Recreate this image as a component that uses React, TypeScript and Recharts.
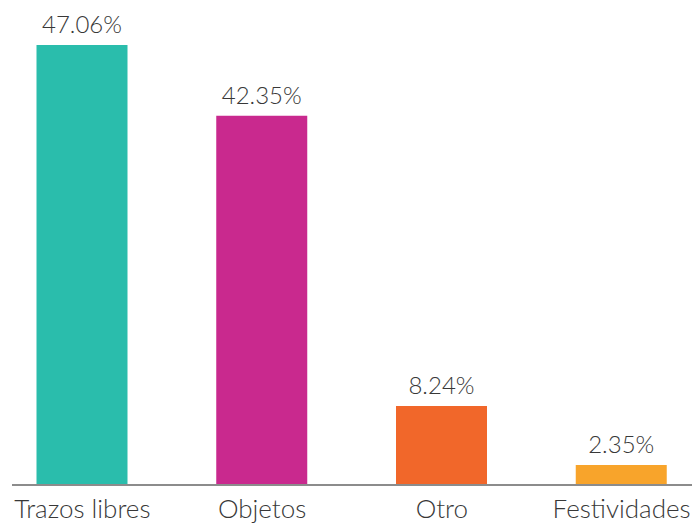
import { BarChart, Bar, XAxis, YAxis, Cell, LabelList } from "recharts";

const categories = ["Trazos libres", "Objetos", "Otro", "Festividades"];
// bar heights as drawn in the picture (percent scale)
const barValues = [47.06, 39.5, 8.45, 2.14];
// value labels printed above the bars
const valueLabels = ["47.06%", "42.35%", "8.24%", "2.35%"];
const colors = ["#2abdac", "#c9298e", "#f1672a", "#f8a42b"];

const data = categories.map((name, i) => ({
  name,
  value: barValues[i],
  label: valueLabels[i],
}));

const font = "Lato, 'Open Sans', sans-serif";

export default function App() {
  return (
    <div style={{ position: "absolute", left: 0, top: 0, width: 692, height: 524, overflow: "hidden", background: "#fff" }}>
      <BarChart
        width={692}
        height={524}
        data={data}
        margin={{ top: 17.5, right: 0, left: 12, bottom: 0 }}
        barSize={91}
      >
        <XAxis
          dataKey="name"
          height={39}
          padding={{ left: -19.5, right: -19.5 }}
          tickLine={false}
          tickSize={0}
          tickMargin={15}
          axisLine={{ stroke: "#8c8c8c", strokeWidth: 2 }}
          tick={{ fill: "#383838", fontSize: 26, fontFamily: font, fontWeight: 300 }}
          interval={0}
        />
        <YAxis hide domain={[0, 50]} />
        <Bar dataKey="value" isAnimationActive={false}>
          {data.map((d, i) => (
            <Cell key={d.name} fill={colors[i]} />
          ))}
          <LabelList
            dataKey="label"
            position="top"
            offset={12}
            fill="#383838"
            fontSize={24}
            fontFamily={font}
            fontWeight={300}
          />
        </Bar>
      </BarChart>
    </div>
  );
}
